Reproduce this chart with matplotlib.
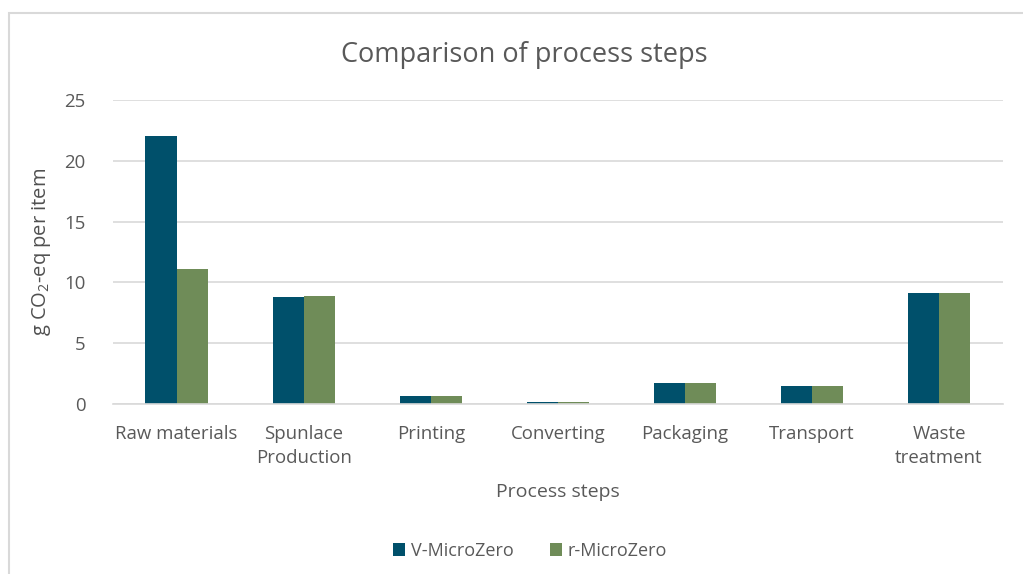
import matplotlib
matplotlib.use("Agg")
import matplotlib.pyplot as plt
import numpy as np
from matplotlib.patches import Rectangle

plt.rcParams['font.family'] = ['Open Sans', 'DejaVu Sans']
plt.rcParams['mathtext.fontset'] = 'custom'
plt.rcParams['mathtext.rm'] = 'Open Sans'
plt.rcParams['mathtext.it'] = 'Open Sans'

steps = ["Raw materials", "Spunlace\nProduction", "Printing", "Converting",
         "Packaging", "Transport", "Waste\ntreatment"]
v_microzero = [22.0, 8.8, 0.7, 0.15, 1.7, 1.5, 9.1]
r_microzero = [11.1, 8.9, 0.7, 0.15, 1.7, 1.5, 9.1]

text_col = "#595959"
grid_col = "#d9d9d9"

fig = plt.figure(figsize=(10.23, 5.74), dpi=100)
ax = fig.add_axes([0.1105, 0.296, 0.8695, 0.530])

x = np.arange(len(steps))
w = 0.245
ax.bar(x - w / 2, v_microzero, w, color="#00506B", label="V-MicroZero")
ax.bar(x + w / 2, r_microzero, w, color="#6F8C58", label="r-MicroZero")

ax.set_xlim(-0.5, len(steps) - 0.5)
ax.set_ylim(0, 25)
ax.set_yticks([0, 5, 10, 15, 20, 25])
ax.set_xticks(x)
ax.set_xticklabels(steps, fontsize=13.4, color=text_col, linespacing=1.45)
ax.tick_params(axis='y', labelsize=13.4, labelcolor=text_col, length=0, pad=20)
ax.tick_params(axis='x', length=0, pad=15)
ax.yaxis.grid(True, color=grid_col, linewidth=1.2)
ax.set_axisbelow(True)
for s in ["top", "right", "left"]:
    ax.spines[s].set_visible(False)
ax.spines["bottom"].set_color(grid_col)
ax.spines["bottom"].set_linewidth(1.2)

ax.set_ylabel("g CO$_2$-eq per item", fontsize=14.5, color="#505050", labelpad=8)
ax.set_xlabel("Process steps", fontsize=14, color=text_col, labelpad=11)
fig.text(0.513, 0.904, "Comparison of process steps", fontsize=19.5,
         color=text_col, ha="center", va="center")

fig.legend(loc="center", bbox_to_anchor=(0.518, 0.04), ncol=2, frameon=False,
           fontsize=13, labelcolor=text_col, handlelength=0.7, handleheight=0.7,
           handletextpad=0.3, columnspacing=2.0)

# chart frame
fig.patches.append(Rectangle((9 / 1023, -0.1), 1.2, 1 - 13 / 574 + 0.1,
                             transform=fig.transFigure, fill=False,
                             edgecolor="#d9d9d9", linewidth=1.5))

fig.savefig("out.png", dpi=100)
